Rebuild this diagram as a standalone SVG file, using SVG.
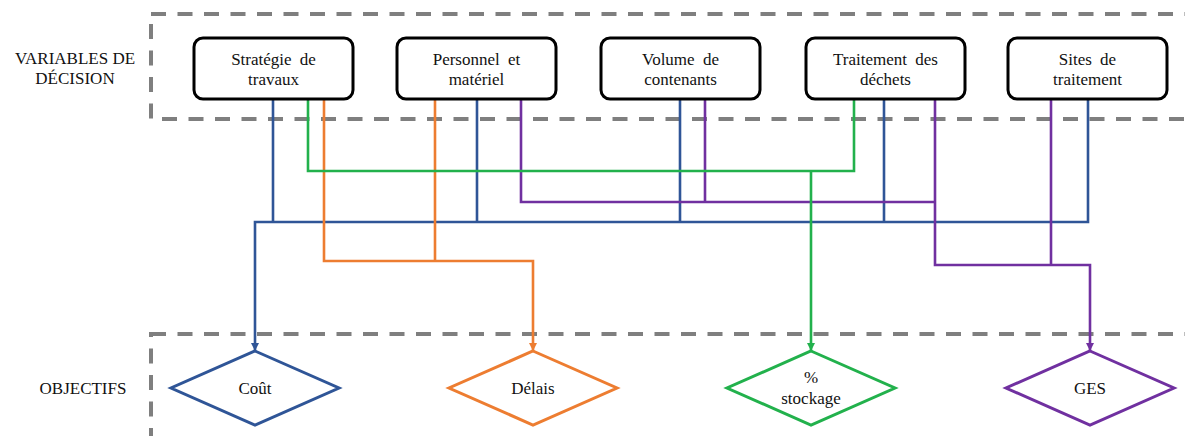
<svg xmlns="http://www.w3.org/2000/svg" width="1185" height="436" viewBox="0 0 1185 436">
  <style>
    text { font-size: 17px; fill: #111; text-anchor: middle; }
    .frame { fill: none; stroke: #7f7f7f; stroke-width: 4; stroke-dasharray: 15 11.5; }
    .box { fill: #fff; stroke: #000; stroke-width: 3; }
    .conn { fill: none; stroke-width: 2.6; stroke-linejoin: miter; }
    .dia { fill: #fff; stroke-width: 3; }
  </style>
  <defs>
    <marker id="aBlue" viewBox="0 0 10 10" refX="10" refY="5" markerWidth="9" markerHeight="8" markerUnits="userSpaceOnUse" orient="auto"><path d="M0,0 L10,5 L0,10 Z" fill="#2f5597"/></marker>
    <marker id="aOrange" viewBox="0 0 10 10" refX="10" refY="5" markerWidth="9" markerHeight="8" markerUnits="userSpaceOnUse" orient="auto"><path d="M0,0 L10,5 L0,10 Z" fill="#ed7d31"/></marker>
    <marker id="aGreen" viewBox="0 0 10 10" refX="10" refY="5" markerWidth="9" markerHeight="8" markerUnits="userSpaceOnUse" orient="auto"><path d="M0,0 L10,5 L0,10 Z" fill="#22b14c"/></marker>
    <marker id="aPurple" viewBox="0 0 10 10" refX="10" refY="5" markerWidth="9" markerHeight="8" markerUnits="userSpaceOnUse" orient="auto"><path d="M0,0 L10,5 L0,10 Z" fill="#7030a0"/></marker>
  </defs>

  <g id="frames">
    <rect class="frame" x="151" y="14" width="1100" height="105"/>
    <rect class="frame" x="151" y="334" width="1100" height="200"/>
  </g>

  <g id="connectors">
    <path class="conn" stroke="#2f5597" d="M273,99 V222 M477,99 V222 M680,99 V222 M884,99 V222 M1088,99 V222 H255 V351" marker-end="url(#aBlue)"/>
    <path class="conn" stroke="#ed7d31" d="M435,99 V261 M324,99 V261 H533 V351" marker-end="url(#aOrange)"/>
    <path class="conn" stroke="#7030a0" d="M705,99 V202 M521,99 V202 H935 M1051,99 V265 M935,99 V265 H1090 V351" marker-end="url(#aPurple)"/>
    <path class="conn" stroke="#22b14c" d="M308,99 V171 H854 V99 M811,171 V351" marker-end="url(#aGreen)"/>
  </g>

  <g font-family="Liberation Serif, serif">
    <g id="labels">
      <text x="75" y="64">VARIABLES DE</text>
      <text x="75" y="84">DÉCISION</text>
      <text x="83" y="394">OBJECTIFS</text>
    </g>

    <g id="node-strategie">
      <rect class="box" x="194" y="38" width="159" height="61" rx="9"/>
      <text x="273.5" y="65" word-spacing="4">Stratégie de</text>
      <text x="273.5" y="85">travaux</text>
    </g>
    <g id="node-personnel">
      <rect class="box" x="397" y="38" width="159" height="61" rx="9"/>
      <text x="476.5" y="65" word-spacing="4">Personnel et</text>
      <text x="476.5" y="85">matériel</text>
    </g>
    <g id="node-volume">
      <rect class="box" x="601" y="38" width="159" height="61" rx="9"/>
      <text x="680.5" y="65" word-spacing="4">Volume de</text>
      <text x="680.5" y="85">contenants</text>
    </g>
    <g id="node-traitement">
      <rect class="box" x="806" y="38" width="159" height="61" rx="9"/>
      <text x="885.5" y="65" word-spacing="4">Traitement des</text>
      <text x="885.5" y="85">déchets</text>
    </g>
    <g id="node-sites">
      <rect class="box" x="1008" y="38" width="159" height="61" rx="9"/>
      <text x="1087.5" y="65" word-spacing="4">Sites de</text>
      <text x="1087.5" y="85">traitement</text>
    </g>

    <g id="obj-cout">
      <polygon class="dia" stroke="#2f5597" points="255,351 339,388 255,425 171,388"/>
      <text x="255" y="394">Coût</text>
    </g>
    <g id="obj-delais">
      <polygon class="dia" stroke="#ed7d31" points="533,351 617,388 533,425 449,388"/>
      <text x="533" y="394">Délais</text>
    </g>
    <g id="obj-stockage">
      <polygon class="dia" stroke="#22b14c" points="811,351 895,388 811,425 727,388"/>
      <text x="811" y="383">%</text>
      <text x="811" y="404">stockage</text>
    </g>
    <g id="obj-ges">
      <polygon class="dia" stroke="#7030a0" points="1090,351 1174,388 1090,425 1006,388"/>
      <text x="1090" y="394">GES</text>
    </g>
  </g>
</svg>
